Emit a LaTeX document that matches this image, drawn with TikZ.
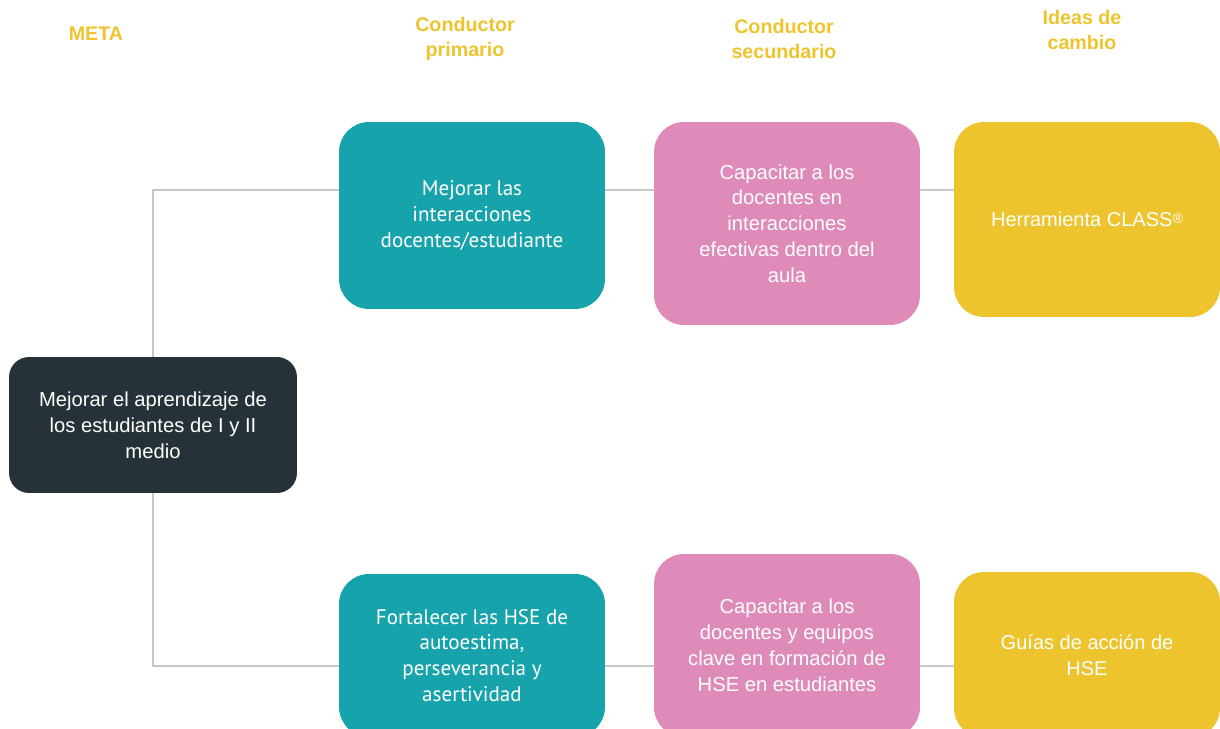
\documentclass[tikz,border=0pt]{standalone}
\usepackage{fontspec}
\setmainfont{Liberation Sans}
\newfontfamily\estrecha{PT Sans}
\usetikzlibrary{positioning}

\definecolor{gris}{HTML}{263238}
\definecolor{verde}{HTML}{17A3AC}
\definecolor{rosa}{HTML}{DE8BB9}
\definecolor{amarillo}{HTML}{EEC42E}
\definecolor{linea}{HTML}{C8C8C8}

\tikzset{
    caja/.style={rounded corners=0.6cm, align=center, text=white, inner sep=0pt,
        minimum width=5.32cm, font=\fontsize{11.5}{14.7}\selectfont},
    metacaja/.style={caja, fill=gris, rounded corners=0.4cm, minimum width=5.76cm, minimum height=2.72cm},
    primcaja/.style={caja, fill=verde, font=\estrecha\fontsize{12}{14.7}\selectfont},
    seccaja/.style={caja, fill=rosa},
    ideacaja/.style={caja, fill=amarillo, font=\fontsize{11.4}{14.7}\selectfont},
    titulo/.style={align=center, text=amarillo, font=\bfseries\fontsize{11.2}{14.2}\selectfont},
    enlace/.style={draw=linea, line width=1.1pt}
}

\begin{document}
\begin{tikzpicture}[x=0.02cm, y=-0.02cm]
    \clip (0,0) rectangle (1220,729);

    % encabezados
    \node[titulo] (t0) at (96,34)    {META};
    \node[titulo] (t1) at (465,38.5) {Conductor\\primario};
    \node[titulo] (t2) at (784,38.5) {Conductor\\secundario};
    \node[titulo] (t3) at (1082,29.5) {Ideas de\\cambio};

    % cajas
    \node[metacaja] (meta) at (153,425) {Mejorar el aprendizaje de\\los estudiantes de I y II\\medio};
    \node[primcaja, minimum height=3.74cm] (prim1) at (472,215.5) {Mejorar las\\interacciones\\docentes/estudiante};
    \node[primcaja, minimum height=3.26cm] (prim2) at (472,655.5) {Fortalecer las HSE de\\autoestima,\\perseverancia y\\asertividad};
    \node[seccaja, minimum height=4.06cm] (sec1) at (787,223.5) {Capacitar a los\\docentes en\\interacciones\\efectivas dentro del\\aula};
    \node[seccaja, minimum height=3.66cm] (sec2) at (787,645.5) {Capacitar a los\\docentes y equipos\\clave en formación de\\HSE en estudiantes};
    \node[ideacaja, minimum height=3.9cm] (idea1) at (1087,219.5) {Herramienta CLASS{\fontsize{8}{8}\selectfont\raisebox{0.45ex}{®}}};
    \node[ideacaja, minimum height=3.32cm] (idea2) at (1087,655) {Guías de acción de\\HSE};

    % conectores
    \coordinate (filaA) at (0,190);
    \coordinate (filaB) at (0,666);
    \draw[enlace] (meta.north) |- (prim1.west |- filaA);
    \draw[enlace] (meta.south) |- (prim2.west |- filaB);
    \draw[enlace] (prim1.east |- filaA) -- (sec1.west |- filaA);
    \draw[enlace] (sec1.east |- filaA) -- (idea1.west |- filaA);
    \draw[enlace] (prim2.east |- filaB) -- (sec2.west |- filaB);
    \draw[enlace] (sec2.east |- filaB) -- (idea2.west |- filaB);
\end{tikzpicture}
\end{document}
